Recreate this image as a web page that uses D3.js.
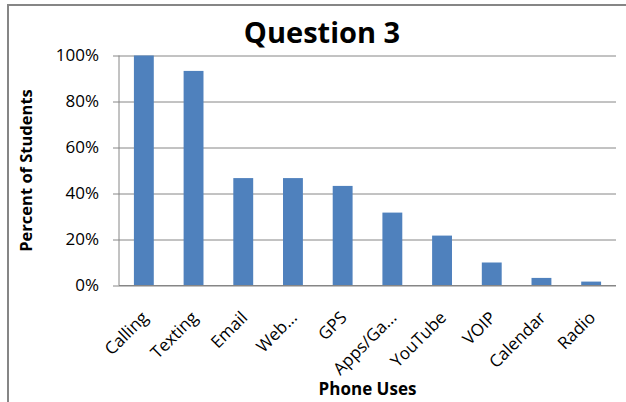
<!DOCTYPE html>
<html>
<head>
<meta charset="utf-8">
<script src="https://cdn.jsdelivr.net/npm/d3@7"></script>
<style>
  body { margin: 0; background: #fff; }
  svg { display: block; }
  text { font-family: "Open Sans", sans-serif; fill: #000; }
</style>
</head>
<body>
<div id="chart"></div>
<script>
var categories = ["Calling", "Texting", "Email", "Web...", "GPS", "Apps/Ga...", "YouTube", "VOIP", "Calendar", "Radio"];
var percents = [100, 93.3, 46.7, 46.7, 43.3, 31.7, 21.7, 10, 3.3, 1.7];
var yTicks = [0, 20, 40, 60, 80, 100];

var W = 626, H = 402;
var margin = {top: 55.5, right: 10, bottom: 116, left: 119},
    width = 616 - margin.left,
    height = 285.5 - margin.top;

var data = categories.map(function(c, i) { return {name: c, value: percents[i]}; });

var svg = d3.select("#chart").append("svg")
    .attr("width", W)
    .attr("height", H);

// chart frame (cropped at right/bottom)
svg.append("rect")
    .attr("x", 8).attr("y", 5)
    .attr("width", 700).attr("height", 500)
    .attr("fill", "none")
    .attr("stroke", "#868686")
    .attr("stroke-width", 2);

var g = svg.append("g")
    .attr("transform", "translate(" + margin.left + "," + margin.top + ")");

var x = d3.scaleBand()
    .domain(categories)
    .range([0, width])
    .paddingInner(0.6)
    .paddingOuter(0.3);

var y = d3.scaleLinear()
    .domain([0, 100])
    .range([height, 0]);

// gridlines
g.append("g")
    .attr("class", "grid")
    .call(d3.axisLeft(y).tickValues(yTicks).tickSize(-width).tickFormat(""))
    .call(function(s) {
      s.select(".domain").remove();
      s.selectAll("line").attr("stroke", "#868686");
    });

// y axis
g.append("g")
    .attr("class", "y axis")
    .call(d3.axisLeft(y).tickValues(yTicks).tickSize(6).tickPadding(14)
      .tickFormat(function(d) { return d + "%"; }))
    .call(function(s) {
      s.select(".domain").attr("stroke", "#868686").attr("d", "M0,0V" + height);
      s.selectAll("line").attr("stroke", "#868686");
      s.selectAll("text").style("font-size", "17px").attr("fill", "#000");
    });

g.selectAll(".bar")
    .data(data)
  .enter().append("rect")
    .attr("class", "bar")
    .attr("x", function(d) { return x(d.name); })
    .attr("width", x.bandwidth())
    .attr("y", function(d) { return y(d.value); })
    .attr("height", function(d) { return height - y(d.value); })
    .attr("fill", "#4F81BD");

// x axis line
g.append("line")
    .attr("x1", 0).attr("x2", width)
    .attr("y1", height).attr("y2", height)
    .attr("stroke", "#868686");

// category labels
g.selectAll(".xlabel")
    .data(categories)
  .enter().append("text")
    .attr("class", "xlabel")
    .attr("transform", function(d) {
      return "translate(" + (x(d) + x.bandwidth() / 2 + 1) + "," + (height + 29) + ") rotate(-45)";
    })
    .attr("dy", ".35em")
    .style("text-anchor", "end")
    .style("font-size", "17px")
    .text(function(d) { return d; });

svg.append("text")
    .attr("x", 322)
    .attr("y", 43)
    .style("text-anchor", "middle")
    .style("font-size", "29px")
    .style("font-weight", "bold")
    .text("Question 3");

svg.append("text")
    .attr("transform", "translate(32," + (margin.top + height / 2) + ") rotate(-90)")
    .style("text-anchor", "middle")
    .style("font-size", "16.5px")
    .style("font-weight", "bold")
    .text("Percent of Students");

svg.append("text")
    .attr("x", margin.left + width / 2)
    .attr("y", 395)
    .style("text-anchor", "middle")
    .style("font-size", "17px")
    .style("font-weight", "bold")
    .text("Phone Uses");
</script>
</body>
</html>
